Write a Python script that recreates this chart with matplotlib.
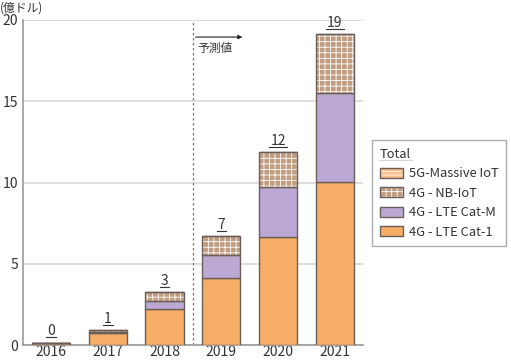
import matplotlib
matplotlib.use("Agg")
import matplotlib.pyplot as plt
from matplotlib.patches import Patch
from matplotlib.lines import Line2D
from matplotlib.legend_handler import HandlerTuple
import numpy as np

plt.rcParams['font.family'] = ['Noto Sans CJK JP', 'DejaVu Sans']
plt.rcParams['hatch.linewidth'] = 0.6

years = ['2016', '2017', '2018', '2019', '2020', '2021']
cat1 = [0.15, 0.72, 2.2, 4.15, 6.63, 10.06]
catm = [0.0, 0.08, 0.5, 1.4, 3.1, 5.44]
nbiot = [0.0, 0.12, 0.56, 1.17, 2.14, 3.65]
massive5g = [0, 0, 0, 0, 0, 0]
totals = ['0', '1', '3', '7', '12', '19']
series_names = ['4G - LTE Cat-1', '4G - LTE Cat-M', '4G - NB-IoT', '5G-Massive IoT']
y_unit = '(億ドル)'
forecast_label = '予測値'

c_cat1 = '#F6AE67'
c_catm = '#BBA9D3'
c_nb = '#C09C80'
c_5g = '#F8BC84'
edge = '#6B5D57'
grid_c = '#D9D9D9'
spine_c = '#9A9A9A'
txt_c = '#333333'

fig = plt.figure(figsize=(5.11, 3.61), dpi=100)
ax = fig.add_axes([0.045, 0.0443, 0.665, 0.9003])

x = np.arange(len(years))
w = 0.67
series = [(cat1, c_cat1, None), (catm, c_catm, None), (nbiot, c_nb, '+++'), (massive5g, c_5g, '-----')]
bottom = np.zeros(len(years))
for vals, col, hatch in series:
    vals = np.array(vals, dtype=float)
    if hatch:
        ax.bar(x, vals, w, bottom=bottom, color=col, edgecolor='white', hatch=hatch, linewidth=0, zorder=3)
        ax.bar(x, vals, w, bottom=bottom, fill=False, edgecolor=edge, linewidth=1.0, zorder=4)
    else:
        ax.bar(x, vals, w, bottom=bottom, color=col, edgecolor=edge, linewidth=1.0, zorder=3)
    bottom += vals

ax.set_xlim(-0.49, 5.49)
ax.set_ylim(0, 20)
ax.set_yticks([0, 5, 10, 15, 20])
ax.set_xticks(x)
ax.set_xticklabels(years)
ax.tick_params(length=0, labelsize=10, colors=txt_c)
ax.tick_params(axis='x', pad=0)
ax.tick_params(axis='y', pad=3.5)
ax.grid(axis='y', color=grid_c, linewidth=1.2, zorder=0)
for s in ['top', 'right']:
    ax.spines[s].set_visible(False)
for s in ['left', 'bottom']:
    ax.spines[s].set_color(spine_c)
    ax.spines[s].set_linewidth(1.2)

# forecast divider
ax.axvline(2.5, color='#777777', linestyle=(0, (2, 2)), linewidth=0.9, zorder=2)
ax.annotate('', xy=(3.42, 18.95), xytext=(2.5, 18.95),
            arrowprops=dict(arrowstyle='-|>', color='#222222', lw=0.8, mutation_scale=6))
ax.text(2.58, 18.25, forecast_label, fontsize=8.5, color=txt_c, va='center', ha='left')

fig.text(0.0, 0.978, y_unit, fontsize=8.5, color=txt_c, va='center', ha='left')

# total labels
total_texts = []
for xi, top, lab in zip(x, bottom, totals):
    t = ax.annotate(lab, (xi, top), xytext=(0, 3), textcoords='offset points',
                    ha='center', va='bottom', fontsize=10, color=txt_c)
    total_texts.append(t)

def hatched(col, hatch):
    return (Patch(facecolor=col, edgecolor='white', hatch=hatch, linewidth=0),
            Patch(fill=False, edgecolor=edge, linewidth=1.0))

handles = [hatched(c_5g, '-----'), hatched(c_nb, '+++'),
           Patch(facecolor=c_catm, edgecolor=edge), Patch(facecolor=c_cat1, edgecolor=edge)]
leg = fig.legend(handles, series_names[::-1], title='Total', loc='upper left',
                 bbox_to_anchor=(372 / 511, 1 - 140 / 361), borderaxespad=0,
                 frameon=True, fancybox=False,
                 fontsize=9.3, title_fontsize=9.3, handlelength=1.8, handleheight=0.8,
                 labelspacing=0.5, handletextpad=0.45, borderpad=0.6, alignment='left',
                 handler_map={tuple: HandlerTuple(ndivide=1, pad=0)})
leg.get_frame().set_edgecolor('#999999')
leg.get_frame().set_linewidth(1.0)
for t in leg.get_texts():
    t.set_color(txt_c)
leg.get_title().set_color(txt_c)

# underline the totals and legend title
fig.canvas.draw()
r = fig.canvas.get_renderer()
inv = fig.transFigure.inverted()
for t in total_texts + [leg.get_title()]:
    bb = t.get_window_extent(r)
    (x0, y0), (x1, _) = inv.transform([(bb.x0 - 1, bb.y0 + 1), (bb.x1 + 1, bb.y0)])
    fig.add_artist(Line2D([x0, x1], [y0, y0], color=txt_c, linewidth=0.8, transform=fig.transFigure))

fig.savefig('out.png', dpi=100)
